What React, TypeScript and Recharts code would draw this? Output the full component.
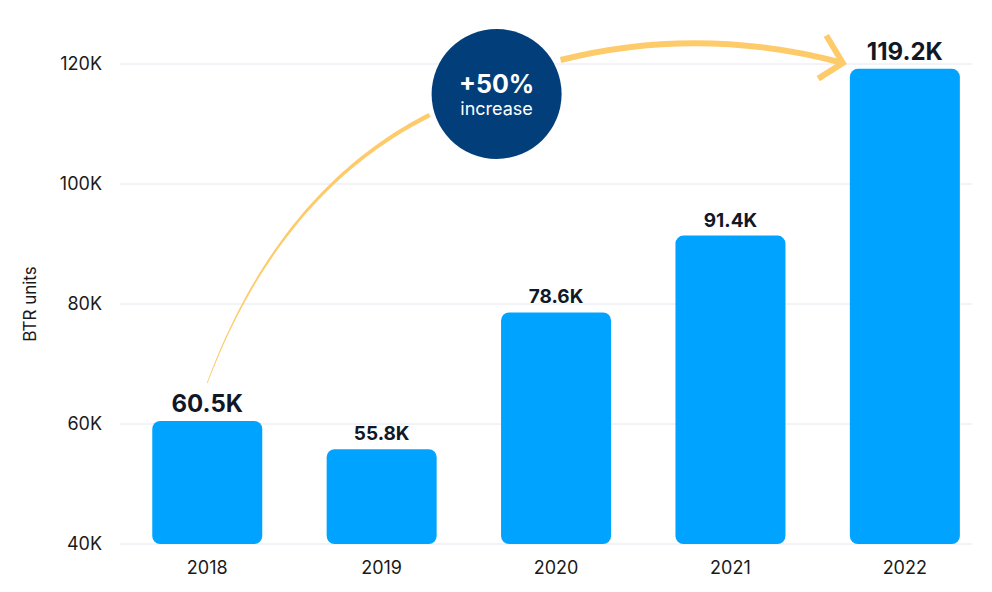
import { Bar, BarChart, CartesianGrid, XAxis, YAxis } from 'recharts';

const years = ['2018', '2019', '2020', '2021', '2022'];
const btrUnits = [60500, 55800, 78600, 91400, 119200];
const yTicks = [40000, 60000, 80000, 100000, 120000];

const data = years.map((year, i) => ({ year, units: btrUnits[i] }));

const W = 992;
const H = 592;
const X_AXIS_H = 30;
const MARGIN = { top: 64, right: 20, bottom: 18, left: 0 };
const Y_AXIS_W = 120;
const PAD_RIGHT = -20;
const Y_MIN = yTicks[0];
const Y_MAX = yTicks[yTicks.length - 1];

const BAR_COLOR = '#00A3FF';
const INK = '#101828';
const GOLD = '#FECB6B';
const NAVY = '#023F7A';

// same geometry recharts uses, for the annotation overlay
const plotLeft = MARGIN.left + Y_AXIS_W;
const plotRight = W - MARGIN.right - PAD_RIGHT;
const plotTop = MARGIN.top;
const plotBottom = H - MARGIN.bottom - X_AXIS_H;
const band = (plotRight - plotLeft) / years.length;
const xCenter = (i: number) => plotLeft + band * (i + 0.5);
const yVal = (v: number) => plotTop + ((Y_MAX - v) / (Y_MAX - Y_MIN)) * (plotBottom - plotTop);

const fmtK = (v: number) => `${v / 1000}K`;

const renderValue = (props: any) => {
  const { x, y, width, value, index } = props;
  const big = index === 0 || index === years.length - 1;
  return (
    <text
      x={Number(x) + Number(width) / 2}
      y={Number(y) - 9}
      textAnchor="middle"
      fontSize={big ? 24 : 19}
      fontWeight={700}
      fill={INK}
    >
      {`${(Number(value) / 1000).toFixed(1)}K`}
    </text>
  );
};

const renderAxisTitle = (props: any) => {
  const vb = props.viewBox || {};
  const cx = 30;
  const cy = (vb.y ?? plotTop) + (vb.height ?? plotBottom - plotTop) / 2;
  return (
    <text x={cx} y={cy} transform={`rotate(-90 ${cx} ${cy})`} textAnchor="middle" dominantBaseline="central" fontSize={17} fill="#1a1a1a">
      BTR units
    </text>
  );
};

// quadratic curve that gets thicker towards its end
function taperedPath(p0: number[], c: number[], p1: number[], w0: number, w1: number) {
  const n = 48;
  const left: string[] = [];
  const right: string[] = [];
  for (let k = 0; k <= n; k++) {
    const t = k / n;
    const mt = 1 - t;
    const x = mt * mt * p0[0] + 2 * mt * t * c[0] + t * t * p1[0];
    const y = mt * mt * p0[1] + 2 * mt * t * c[1] + t * t * p1[1];
    const dx = 2 * mt * (c[0] - p0[0]) + 2 * t * (p1[0] - c[0]);
    const dy = 2 * mt * (c[1] - p0[1]) + 2 * t * (p1[1] - c[1]);
    const len = Math.hypot(dx, dy) || 1;
    const hw = (w0 + (w1 - w0) * t) / 2;
    const nx = -dy / len;
    const ny = dx / len;
    left.push(`${(x + nx * hw).toFixed(2)},${(y + ny * hw).toFixed(2)}`);
    right.unshift(`${(x - nx * hw).toFixed(2)},${(y - ny * hw).toFixed(2)}`);
  }
  return `M${left.join(' L')} L${right.join(' L')} Z`;
}

function Annotation() {
  const circle = { x: xCenter(1) + 115, y: yVal(Y_MAX) + 30, r: 65 };
  const start = [xCenter(0), yVal(btrUnits[0]) - 38];
  const end1 = [circle.x - 67, circle.y + 21];
  const ctrl1 = [xCenter(0) + 72, yVal(btrUnits[0]) - 230];
  const start2 = [circle.x + 64, circle.y - 34];
  const tip = [xCenter(4) - 62, yVal(Y_MAX) - 1];
  const ctrl2 = [(start2[0] + tip[0]) / 2 - 2, yVal(Y_MAX) - 39];
  return (
    <svg width={W} height={H} style={{ position: 'absolute', left: 0, top: 0, pointerEvents: 'none' }}>
      <path d={taperedPath(start, ctrl1, end1, 0.8, 4.5)} fill={GOLD} />
      <path
        d={`M${start2[0]},${start2[1]} Q${ctrl2[0]},${ctrl2[1]} ${tip[0]},${tip[1]}`}
        fill="none"
        stroke={GOLD}
        strokeWidth={6}
      />
      <path
        d={`M${tip[0] - 15},${tip[1] - 25} L${tip[0]},${tip[1]} L${tip[0] - 22},${tip[1] + 14}`}
        fill="none"
        stroke={GOLD}
        strokeWidth={6}
        strokeLinecap="square"
        strokeLinejoin="miter"
      />
      <circle cx={circle.x} cy={circle.y} r={circle.r} fill={NAVY} />
      <text x={circle.x} y={circle.y - 1} textAnchor="middle" fontSize={25} fontWeight={700} fill="#fff">
        +50%
      </text>
      <text x={circle.x} y={circle.y + 21} textAnchor="middle" fontSize={18} fill="#fff">
        increase
      </text>
    </svg>
  );
}

export default function App() {
  return (
    <div style={{ position: 'relative', width: W, height: H, fontFamily: 'Inter, "Noto Sans", sans-serif', background: '#fff' }}>
      <style>{'body{margin:0}'}</style>
      <BarChart width={W} height={H} data={data} margin={MARGIN} barCategoryGap="18.5%">
        <CartesianGrid vertical={false} stroke="#E4E8F0" />
        <XAxis
          dataKey="year"
          height={X_AXIS_H}
          axisLine={false}
          tickLine={false}
          padding={{ left: 0, right: PAD_RIGHT }}
          tickMargin={11}
          tick={{ fontSize: 18, fill: '#1a1a1a' }}
        />
        <YAxis
          width={Y_AXIS_W}
          domain={[Y_MIN, Y_MAX]}
          ticks={yTicks}
          axisLine={false}
          tickLine={false}
          tickMargin={12}
          tickFormatter={(v: number) => fmtK(v)}
          tick={{ fontSize: 18, fill: '#1a1a1a' }}
          label={{ content: renderAxisTitle }}
        />
        <Bar dataKey="units" fill={BAR_COLOR} radius={8} isAnimationActive={false} label={renderValue} />
      </BarChart>
      <Annotation />
    </div>
  );
}
